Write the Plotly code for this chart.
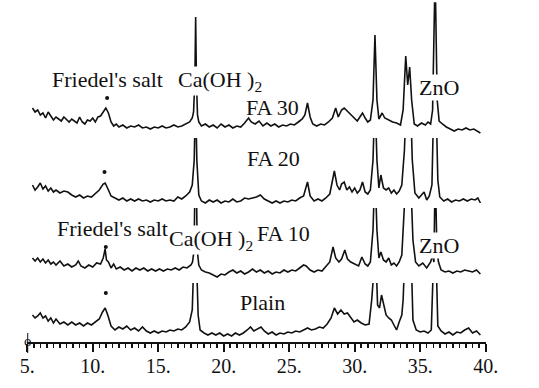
import plotly.graph_objects as go

# ---------------- data (2θ in degrees, intensity in arbitrary units) ----------------
fa30_x = [5.4, 5.6, 5.8, 6.0, 6.2, 6.4, 6.6, 6.8, 7.0, 7.2, 7.4, 7.6, 7.8, 8.0, 8.2, 8.4, 8.6, 8.8, 9.0, 9.2,
          9.4, 9.6, 9.8, 10.0, 10.2, 10.4, 10.6, 10.8, 11.0, 11.2, 11.4, 11.6, 11.8, 12.0, 12.3, 12.6, 12.9,
          13.2, 13.5, 13.8, 14.1, 14.4, 14.7, 15.0, 15.3, 15.6, 15.9, 16.2, 16.5, 16.8, 17.1, 17.4, 17.6,
          17.7, 17.8, 17.86, 17.92, 18.0, 18.1, 18.3, 18.6, 18.9, 19.2, 19.5, 19.8, 20.1, 20.4, 20.7, 21.0,
          21.3, 21.6, 21.9, 22.1, 22.4, 22.7, 23.0, 23.3, 23.6, 23.9, 24.2, 24.5, 24.8, 25.1, 25.4, 25.7,
          26.0, 26.2, 26.4, 26.6, 26.8, 27.1, 27.4, 27.7, 28.0, 28.3, 28.55, 28.75, 29.0, 29.2, 29.5, 29.8,
          30.0, 30.2, 30.4, 30.6, 30.8, 31.0, 31.2, 31.4, 31.55, 31.7, 31.85, 32.1, 32.3, 32.6, 32.9, 33.2,
          33.5, 33.7, 33.9, 34.05, 34.2, 34.35, 34.55, 34.8, 35.1, 35.4, 35.6, 35.8, 35.95, 36.1, 36.18,
          36.3, 36.45, 36.7, 37.0, 37.3, 37.6, 37.9, 38.2, 38.5, 38.8, 39.1, 39.4, 39.6]
fa30_y = [27, 23, 25, 20, 22, 17, 23, 19, 15, 18, 16, 14, 18, 15, 13, 16, 14, 12, 18, 13,
          11, 15, 14, 17, 13, 18, 19, 23, 27, 22, 13, 9, 11, 8, 10, 7, 9,
          8, 10, 7, 8, 6, 8, 7, 9, 7, 8, 10, 8, 9, 11, 13, 17,
          23, 55, 118, 55, 20, 13, 9, 11, 8, 10, 7, 11, 8, 10, 7, 9,
          8, 12, 17, 13, 11, 14, 9, 12, 9, 11, 8, 10, 9, 11, 10, 13,
          16, 20, 32, 18, 11, 9, 11, 10, 13, 17, 27, 18, 25, 27, 23, 20,
          17, 14, 18, 22, 17, 13, 15, 35, 100, 35, 16, 22, 17, 15, 13, 12,
          10, 25, 79, 50, 68, 35, 11, 9, 12, 10, 13, 11, 25, 132, 132,
          35, 14, 11, 8, 6, 4, 6, 5, 7, 5, 6, 4, 2]

fa20_x = [5.4, 5.6, 5.8, 6.0, 6.2, 6.4, 6.6, 6.8, 7.0, 7.2, 7.5, 7.8, 8.1, 8.4, 8.7, 9.0, 9.3, 9.6, 9.9,
          10.2, 10.5, 10.8, 10.95, 11.2, 11.4, 11.7, 12.0, 12.3, 12.6, 12.9, 13.2, 13.5, 13.8, 14.1, 14.4,
          14.7, 15.0, 15.3, 15.6, 15.9, 16.2, 16.5, 16.8, 17.1, 17.4, 17.6, 17.75, 17.85, 17.95, 18.1, 18.3,
          18.6, 18.9, 19.2, 19.5, 19.8, 20.1, 20.4, 20.7, 21.0, 21.3, 21.6, 21.9, 22.2, 22.5, 22.8, 23.1,
          23.4, 23.7, 24.0, 24.3, 24.6, 24.9, 25.2, 25.5, 25.8, 26.1, 26.4, 26.6, 26.9, 27.2, 27.5, 27.8,
          28.1, 28.3, 28.45, 28.65, 28.85, 29.0, 29.2, 29.4, 29.6, 29.8, 30.0, 30.2, 30.4, 30.6, 30.8, 31.0,
          31.2, 31.4, 31.55, 31.7, 31.85, 32.0, 32.2, 32.4, 32.6, 32.8, 33.0, 33.2, 33.4, 33.6, 33.8, 33.95,
          34.1, 34.25, 34.4, 34.6, 34.9, 35.1, 35.3, 35.5, 35.7, 35.9, 36.05, 36.2, 36.35, 36.5, 36.8,
          37.1, 37.4, 37.7, 38.0, 38.3, 38.6, 38.9, 39.2, 39.4, 39.6]
fa20_y = [20, 15, 18, 22, 16, 19, 14, 17, 13, 15, 12, 14, 13, 10, 8, 10, 7, 9, 8,
          12, 15, 21, 22, 15, 9, 7, 5, 7, 4, 6, 4, 6, 4, 5, 3,
          5, 4, 6, 4, 5, 4, 8, 6, 9, 13, 20, 45, 110, 45, 10, 4,
          2, 5, 3, 5, 2, 4, 3, 6, 3, 4, 7, 6, 7, 8, 10, 6,
          4, 2, 4, 2, 4, 3, 5, 4, 7, 9, 23, 9, 4, 6, 4, 7,
          11, 25, 34, 20, 15, 21, 23, 15, 18, 13, 17, 12, 15, 23, 13, 11,
          15, 45, 110, 45, 17, 30, 17, 15, 17, 12, 15, 11, 14, 20, 55, 110,
          85, 110, 45, 12, 7, 10, 13, 5, 9, 20, 110, 110, 25, 8, 4,
          6, 3, 5, 4, 6, 4, 6, 5, 7, 2]

fa10_x = [5.4, 5.6, 5.8, 6.0, 6.2, 6.4, 6.6, 6.8, 7.0, 7.2, 7.5, 7.8, 8.1, 8.4, 8.7, 8.9, 9.1, 9.4, 9.7,
          10.0, 10.3, 10.6, 10.8, 10.95, 11.05, 11.2, 11.4, 11.6, 11.8, 12.1, 12.4, 12.7, 13.0, 13.3, 13.6,
          13.9, 14.2, 14.5, 14.8, 15.1, 15.4, 15.7, 16.0, 16.3, 16.6, 16.9, 17.2, 17.5, 17.62, 17.74, 17.82,
          17.9, 17.98, 18.1, 18.3, 18.6, 18.9, 19.2, 19.5, 19.8, 20.1, 20.4, 20.7, 21.0, 21.3, 21.6, 21.9,
          22.2, 22.5, 22.8, 23.1, 23.4, 23.7, 24.0, 24.3, 24.6, 24.9, 25.2, 25.5, 25.8, 26.1, 26.3, 26.6,
          26.9, 27.2, 27.5, 27.8, 28.1, 28.35, 28.55, 28.8, 29.0, 29.25, 29.45, 29.7, 30.0, 30.3, 30.55, 30.8,
          31.0, 31.2, 31.4, 31.55, 31.7, 31.85, 32.0, 32.2, 32.4, 32.6, 32.8, 33.0, 33.2, 33.4, 33.6, 33.8,
          33.95, 34.1, 34.25, 34.45, 34.65, 34.9, 35.2, 35.5, 35.8, 35.95, 36.05, 36.15, 36.28, 36.4, 36.6,
          36.9, 37.2, 37.5, 37.8, 38.1, 38.4, 38.7, 39.0, 39.3, 39.6]
fa10_y = [20, 17, 20, 16, 19, 15, 18, 14, 16, 13, 17, 12, 14, 11, 13, 17, 12, 10, 13,
          11, 15, 14, 20, 29, 18, 16, 10, 14, 9, 11, 8, 10, 7, 10, 8,
          10, 7, 9, 7, 9, 7, 9, 8, 10, 8, 11, 10, 13, 16, 28, 110,
          110, 28, 13, 8, 6, 5, 3, 1, 4, 3, 6, 8, 5, 7, 4, 6,
          9, 6, 8, 5, 7, 4, 6, 5, 8, 6, 8, 7, 10, 13, 12, 8,
          6, 8, 7, 12, 16, 31, 20, 16, 19, 28, 19, 16, 14, 12, 21, 14,
          12, 16, 48, 110, 48, 20, 26, 18, 16, 20, 13, 15, 12, 16, 23, 78,
          110, 78, 110, 38, 16, 12, 15, 10, 16, 23, 16, 110, 28, 16, 8,
          6, 7, 5, 7, 6, 8, 7, 6, 8, 4]

plain_x = [5.4, 5.6, 5.8, 6.0, 6.2, 6.4, 6.6, 6.8, 7.0, 7.2, 7.5, 7.8, 8.1, 8.4, 8.7, 9.0, 9.3, 9.6, 9.9,
           10.2, 10.5, 10.75, 10.95, 11.15, 11.4, 11.7, 12.0, 12.3, 12.6, 12.9, 13.2, 13.5, 13.8, 14.1, 14.4,
           14.7, 15.0, 15.3, 15.6, 15.9, 16.2, 16.5, 16.8, 17.1, 17.4, 17.6, 17.75, 17.9, 18.05, 18.2, 18.5,
           18.8, 19.1, 19.4, 19.7, 20.0, 20.3, 20.6, 20.9, 21.2, 21.5, 21.8, 22.05, 22.3, 22.6, 22.85, 23.1,
           23.4, 23.7, 24.0, 24.3, 24.6, 24.9, 25.2, 25.5, 25.8, 26.1, 26.4, 26.7, 27.0, 27.3, 27.6, 27.9,
           28.2, 28.45, 28.7, 28.95, 29.2, 29.45, 29.7, 29.95, 30.2, 30.5, 30.8, 31.1, 31.3, 31.45, 31.6,
           31.75, 31.9, 32.05, 32.2, 32.4, 32.6, 32.8, 33.0, 33.2, 33.4, 33.6, 33.7, 33.85, 34.1, 34.3, 34.45,
           34.7, 35.0, 35.3, 35.6, 35.85, 36.05, 36.2, 36.35, 36.6, 36.9, 37.2, 37.5, 37.8, 38.1, 38.4, 38.7,
           39.0, 39.3, 39.6]
plain_y = [23, 20, 22, 25, 20, 22, 17, 20, 15, 19, 14, 16, 13, 16, 13, 15, 12, 15, 13,
           16, 19, 26, 30, 23, 12, 8, 11, 9, 12, 8, 10, 7, 11, 7, 5,
           7, 5, 7, 6, 8, 7, 9, 8, 11, 16, 28, 90, 90, 23, 8, 5,
           3, 5, 3, 5, 2, 4, 2, 5, 3, 5, 8, 11, 7, 9, 11, 7,
           4, 6, 3, 5, 4, 6, 5, 7, 6, 8, 10, 8, 9, 11, 10, 14,
           20, 30, 24, 28, 24, 25, 20, 16, 18, 15, 13, 14, 38, 90, 90,
           33, 30, 43, 33, 23, 20, 18, 13, 8, 16, 23, 38, 90, 76, 90, 18,
           8, 6, 7, 5, 8, 90, 90, 12, 7, 4, 6, 3, 6, 5, 8, 10,
           5, 7, 3]

salt_x = [11.1, 10.9, 11.0, 11.0]      # Friedel's salt marker positions
salt_y = [37, 33, 31, 45]              # marker heights above each pattern

tick_vals = [5, 10, 15, 20, 25, 30, 35, 40]
tick_text = ["5.", "10.", "15.", "20.", "25.", "30.", "35.", "40."]

# ---------------- layout helpers ----------------
W, H = 539, 388
SERIF = "Liberation Serif, Times New Roman, serif"


def py(px):
    return 1 - px / H


fig = go.Figure()

# (trace data, y-axis name, domain in px (top, bottom), range)
patterns = [
    (fa30_x, fa30_y, "y", (0, 140), [-5, 135]),
    (fa20_x, fa20_y, "y2", (138, 210), [-5, 67]),
    (fa10_x, fa10_y, "y3", (208, 282), [-4, 70]),
    (plain_x, plain_y, "y4", (283, 342), [-4, 55]),
]

for i, (xs, ys, ya, dom, rng) in enumerate(patterns):
    fig.add_trace(go.Scatter(x=xs, y=ys, mode="lines", yaxis=ya, xaxis="x",
                             line=dict(color="#111111", width=1.6), showlegend=False,
                             hoverinfo="skip"))
    fig.add_trace(go.Scatter(x=[salt_x[i]], y=[salt_y[i]], mode="markers", yaxis=ya, xaxis="x",
                             marker=dict(color="#111111", size=4), showlegend=False,
                             hoverinfo="skip"))
    key = "yaxis" if ya == "y" else "yaxis" + ya[1:]
    fig.layout[key] = dict(domain=[py(dom[1]), py(dom[0])], range=rng, visible=False,
                           anchor="x", fixedrange=True)

fig.update_layout(
    width=W, height=H,
    margin=dict(l=0, r=0, t=0, b=0, pad=0),
    paper_bgcolor="white", plot_bgcolor="white",
    xaxis=dict(domain=[20 / W, 497 / W], range=[5, 40], anchor="free", position=py(343),
               showline=True, linecolor="#111111", linewidth=2, showgrid=False, zeroline=False,
               ticks="outside", ticklen=8, tickwidth=2, tickcolor="#111111",
               tickvals=tick_vals, ticktext=tick_text, ticklabelstandoff=-3,
               tickfont=dict(family=SERIF, size=20, color="#111111"),
               minor=dict(dtick=0.5, tick0=5, ticks="outside", ticklen=4, tickwidth=1.5,
                          tickcolor="#111111", showgrid=False),
               fixedrange=True),
    showlegend=False,
)

labels = [
    ("Friedel's salt", 11.13, 80, False),
    ("Ca(OH )<sub>2</sub>", 19.75, 81, True),
    ("FA 30", 23.7, 107, False),
    ("ZnO", 36.44, 88, True),
    ("FA 20", 23.82, 158, False),
    ("Friedel's salt", 11.49, 228, False),
    ("Ca(OH )<sub>2</sub>", 19.0, 240, True),
    ("FA 10", 24.55, 233, False),
    ("ZnO", 36.47, 245, True),
    ("Plain", 23.0, 302, False),
]
for text, xv, ypx, bg in labels:
    fig.add_annotation(text=text, x=xv, xref="x", y=py(ypx), yref="paper",
                       showarrow=False, xanchor="center", yanchor="middle",
                       font=dict(family=SERIF, size=22, color="#111111"),
                       bgcolor="white" if bg else "rgba(0,0,0,0)", borderpad=0)

# origin mark at the left end of the axis
fig.add_annotation(text="o", x=15 / W, xref="paper", y=py(341), yref="paper", showarrow=False,
                   yanchor="middle", font=dict(family=SERIF, size=15, color="#111111"))
fig.add_shape(type="line", x0=5, x1=5, xref="x", y0=py(333), y1=py(353), yref="paper",
              line=dict(color="#111111", width=2))

fig.write_html("out.html", config={"displayModeBar": False, "staticPlot": True},
               post_script="document.body.style.margin='0';")
